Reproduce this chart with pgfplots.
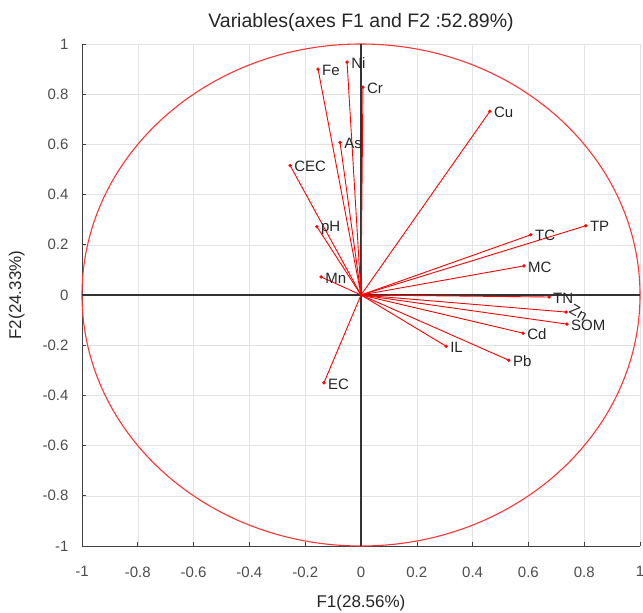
\documentclass[border=0pt]{standalone}
\usepackage{pgfplots}
\pgfplotsset{compat=1.18}
\usepackage{pgfplotstable}
\usepackage{fontspec}
\setmainfont{Liberation Sans}
\definecolor{txt}{HTML}{262626}
\definecolor{tk}{HTML}{4D4D4D}
\definecolor{gr}{HTML}{E3E3E3}
\pgfplotstableread{
x y label
-0.154 0.900 Fe
-0.050 0.928 Ni
0.007 0.828 Cr
-0.075 0.608 As
-0.254 0.516 CEC
-0.158 0.272 pH
-0.143 0.072 Mn
-0.133 -0.350 EC
0.462 0.732 Cu
0.609 0.240 TC
0.806 0.276 TP
0.584 0.116 MC
0.674 -0.008 TN
0.581 -0.152 Cd
0.305 -0.204 IL
0.530 -0.260 Pb
0.738 -0.116 SOM
}\vars
\begin{document}
\begin{tikzpicture}
\begin{axis}[
  scale only axis, width=558pt, height=502pt,
  xmin=-1, xmax=1, ymin=-1, ymax=1,
  axis x line=bottom, axis y line=left,
  axis line style={-, black!75, line width=0.9pt},
  tick align=inside, tick style={black!75, line width=0.6pt}, major tick length=4pt,
  xtick={-1,-0.8,...,1}, ytick={-1,-0.8,...,1},
  grid=major, grid style={gr, line width=0.5pt},
  /pgf/number format/assume math mode=true,
  /pgf/number format/fixed, /pgf/number format/precision=1,
  ticklabel style={font=\fontsize{15}{17}\selectfont, text=tk},
  xticklabel style={yshift=-17pt},
  yticklabel style={xshift=-10pt},
  xlabel={F1(28.56\%)}, ylabel={F2(24.33\%)},
  xlabel style={yshift=-11pt},
  ylabel style={yshift=11pt},
  label style={font=\fontsize{17}{19}\selectfont, text=txt},
  title={Variables(axes F1 and F2 :52.89\%)},
  title style={font=\fontsize{19.5}{21}\selectfont, text=txt, yshift=3pt},
  clip=false,
]
\draw[red!80!white, line width=1.1pt] (axis cs:0,0) ellipse [x radius=1, y radius=1];
\addplot[black!80, line width=1.1pt] coordinates {(-1,0) (1,0)};
\addplot[black!80, line width=1.1pt] coordinates {(0,-1) (0,1)};
\addplot[red, line width=0.9pt] coordinates {(0,0) (-0.154,0.900)};
\addplot[red, line width=0.9pt] coordinates {(0,0) (-0.050,0.928)};
\addplot[red, line width=0.9pt] coordinates {(0,0) (0.007,0.828)};
\addplot[red, line width=0.9pt] coordinates {(0,0) (-0.075,0.608)};
\addplot[red, line width=0.9pt] coordinates {(0,0) (-0.254,0.516)};
\addplot[red, line width=0.9pt] coordinates {(0,0) (-0.158,0.272)};
\addplot[red, line width=0.9pt] coordinates {(0,0) (-0.143,0.072)};
\addplot[red, line width=0.9pt] coordinates {(0,0) (-0.133,-0.350)};
\addplot[red, line width=0.9pt] coordinates {(0,0) (0.462,0.732)};
\addplot[red, line width=0.9pt] coordinates {(0,0) (0.609,0.240)};
\addplot[red, line width=0.9pt] coordinates {(0,0) (0.806,0.276)};
\addplot[red, line width=0.9pt] coordinates {(0,0) (0.584,0.116)};
\addplot[red, line width=0.9pt] coordinates {(0,0) (0.674,-0.008)};
\addplot[red, line width=0.9pt] coordinates {(0,0) (0.735,-0.068)};
\addplot[red, line width=0.9pt] coordinates {(0,0) (0.738,-0.116)};
\addplot[red, line width=0.9pt] coordinates {(0,0) (0.581,-0.152)};
\addplot[red, line width=0.9pt] coordinates {(0,0) (0.305,-0.204)};
\addplot[red, line width=0.9pt] coordinates {(0,0) (0.530,-0.260)};
\addplot[only marks, mark=*, mark size=1.5pt, red,
  nodes near coords, point meta=explicit symbolic,
  every node near coord/.append style={anchor=west, xshift=3pt, yshift=-1pt, inner sep=1pt, text=txt, font=\fontsize{15}{17}\selectfont}]
  table[x=x, y=y, meta=label] {\vars};
\addplot[only marks, mark=*, mark size=1.5pt, red,
  nodes near coords, point meta=explicit symbolic,
  every node near coord/.append style={anchor=west, rotate=-30, xshift=1pt, yshift=6pt, inner sep=1pt, text=txt, font=\fontsize{15}{17}\selectfont}]
  coordinates {(0.735,-0.068)[Zn]};
\end{axis}
\pgfresetboundingbox
\path ([xshift=-82pt,yshift=-67pt]current axis.south west) rectangle ([xshift=3pt,yshift=44pt]current axis.north east);
\end{tikzpicture}
\end{document}
